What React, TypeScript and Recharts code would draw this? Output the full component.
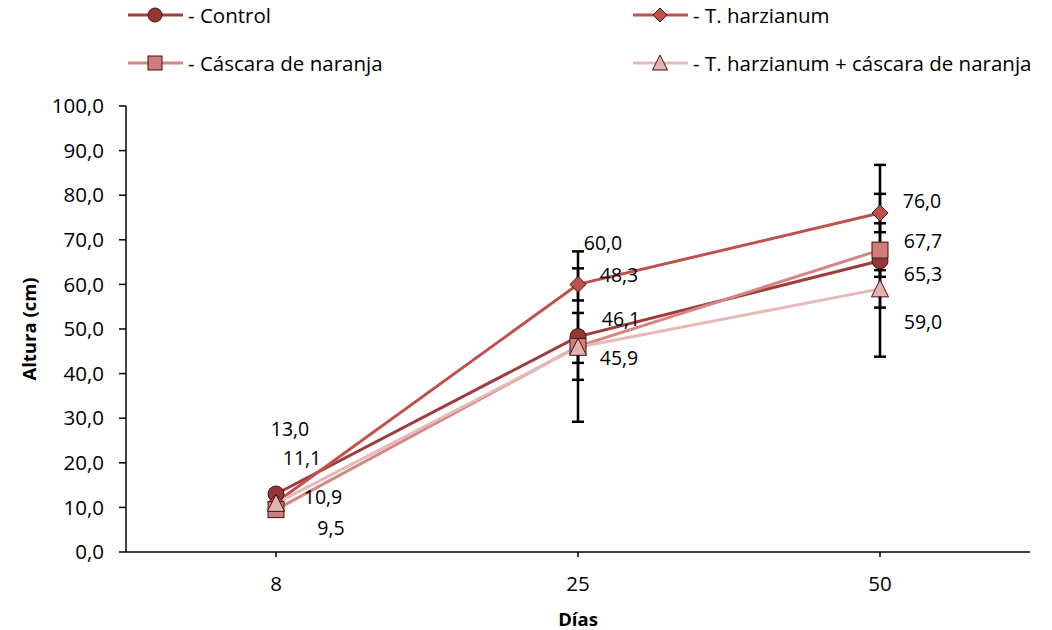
import React from "react";
import { LineChart, Line, XAxis, YAxis, ErrorBar } from "recharts";

const DAYS = ["8", "25", "50"];
const SERIES_NAMES = [
    "Control",
    "T. harzianum",
    "Cáscara de naranja",
    "T. harzianum + cáscara de naranja",
];
const CONTROL = [13.0, 48.3, 65.3];
const HARZIANUM = [11.1, 60.0, 76.0];
const CASCARA = [9.5, 46.1, 67.7];
const HARZ_CASCARA = [10.9, 45.9, 59.0];

const CONTROL_ERR = [0.8, 19.1, 21.5];
const HARZIANUM_ERR = [0.8, 3.6, 4.3];
const CASCARA_ERR = [0.8, 7.5, 6.0];
const HARZ_CASCARA_ERR = [0.8, 3.5, 4.2];

const Y_TICKS = [0, 10, 20, 30, 40, 50, 60, 70, 80, 90, 100];

// label nudges (px) relative to each point, hand-placed like in the original sheet
const LABEL_NUDGE: Record<string, [number, number][]> = {
    control: [[14, -66], [41, -62], [43, 13]],
    harzianum: [[26, -45], [25, -42], [42, -13]],
    cascara: [[55, 18], [43, -28], [43, -10]],
    harzCascara: [[47, -7], [41, 10], [43, 33]],
};

type Shape = "circle" | "diamond" | "square" | "triangle";

const SERIES: { key: string; line: string; fill: string; shape: Shape }[] = [
    { key: "control", line: "#9d3e3c", fill: "#953735", shape: "circle" },
    { key: "harzianum", line: "#c0504d", fill: "#c0504d", shape: "diamond" },
    { key: "cascara", line: "#d48684", fill: "#d07e7d", shape: "square" },
    { key: "harzCascara", line: "#e6b9b8", fill: "#e3b3b2", shape: "triangle" },
];

const data = DAYS.map((day, i) => ({
    day,
    control: CONTROL[i],
    controlErr: CONTROL_ERR[i],
    harzianum: HARZIANUM[i],
    harzianumErr: HARZIANUM_ERR[i],
    cascara: CASCARA[i],
    cascaraErr: CASCARA_ERR[i],
    harzCascara: HARZ_CASCARA[i],
    harzCascaraErr: HARZ_CASCARA_ERR[i],
}));

const FONT = "'Open Sans', sans-serif";
const fmt = (v: number) => v.toFixed(1).replace(".", ",");

function Marker({ cx, cy, shape, fill, size = 16 }: { cx: number; cy: number; shape: Shape; fill: string; size?: number }) {
    const s = size / 2;
    const common = { fill, stroke: "#3d1515", strokeWidth: 1 };
    switch (shape) {
        case "circle":
            return <circle cx={cx} cy={cy} r={s} {...common} />;
        case "square":
            return <rect x={cx - s} y={cy - s} width={size} height={size} {...common} />;
        case "diamond":
            return <polygon points={`${cx},${cy - s} ${cx + s},${cy} ${cx},${cy + s} ${cx - s},${cy}`} {...common} />;
        default:
            return <polygon points={`${cx},${cy - s - 1} ${cx + s + 0.5},${cy + s} ${cx - s - 0.5},${cy + s}`} {...common} />;
    }
}

function Legend() {
    const cols = [128, 633];
    const rows = [15, 63];
    return (
        <svg width={1052} height={80} style={{ position: "absolute", left: 0, top: 0 }}>
            {SERIES.map((s, i) => {
                const x = cols[i % 2];
                const y = rows[Math.floor(i / 2)];
                return (
                    <g key={s.key}>
                        <line x1={x} x2={x + 55} y1={y} y2={y} stroke={s.line} strokeWidth={3} />
                        <Marker cx={x + 27} cy={y} shape={s.shape} fill={s.fill} size={14} />
                        <text x={x + 60} y={y} dominantBaseline="central" fontFamily={FONT} fontSize={20.5} fill="#000">
                            {"- " + SERIES_NAMES[i]}
                        </text>
                    </g>
                );
            })}
        </svg>
    );
}

function makeLabel(key: string) {
    return (props: any) => {
        const { x, y, value, index } = props;
        const [dx, dy] = LABEL_NUDGE[key][index];
        return (
            <text
                x={x + dx}
                y={y + dy}
                textAnchor="middle"
                dominantBaseline="central"
                fontFamily={FONT}
                fontSize={19.5}
                fill="#000"
            >
                {fmt(value)}
            </text>
        );
    };
}

function makeDot(shape: Shape, fill: string) {
    return (props: any) => {
        const { cx, cy, index } = props;
        return <Marker key={`dot-${index}`} cx={cx} cy={cy} shape={shape} fill={fill} />;
    };
}

export default function App() {
    return (
        <div style={{ position: "absolute", left: 0, top: 0, width: 1052, height: 630, background: "#fff" }}>
            <Legend />
            <LineChart width={1052} height={630} data={data} margin={{ top: 106, right: 22, left: 0, bottom: 0 }}>
                <XAxis
                    dataKey="day"
                    height={78}
                    padding={{ left: 150, right: 150 }}
                    axisLine={{ stroke: "#000", strokeWidth: 1.5 }}
                    tickLine={{ stroke: "#000", strokeWidth: 1.5 }}
                    tickSize={5}
                    tickMargin={19}
                    tick={{ fill: "#000", fontSize: 20.5, fontFamily: FONT }}
                    label={{ value: "Días", position: "insideBottom", offset: 4, fill: "#000", fontSize: 18.5, fontWeight: 700, fontFamily: FONT }}
                />
                <YAxis
                    width={126}
                    domain={[0, 100]}
                    ticks={Y_TICKS}
                    interval={0}
                    tickFormatter={fmt}
                    axisLine={{ stroke: "#000", strokeWidth: 1.5 }}
                    tickLine={{ stroke: "#000", strokeWidth: 1.5 }}
                    tickSize={7}
                    tickMargin={15}
                    tick={{ fill: "#000", fontSize: 20.5, fontFamily: FONT }}
                    label={{
                        content: ({ viewBox }: any) => {
                            const cx = viewBox.x + 28;
                            const cy = viewBox.y + viewBox.height / 2;
                            return (
                                <text
                                    x={cx}
                                    y={cy}
                                    transform={`rotate(-90, ${cx}, ${cy})`}
                                    textAnchor="middle"
                                    dominantBaseline="central"
                                    fontFamily={FONT}
                                    fontSize={18.5}
                                    fontWeight={700}
                                    fill="#000"
                                >
                                    Altura (cm)
                                </text>
                            );
                        },
                    }}
                />
                {SERIES.map((s) => (
                    <Line
                        key={`err-${s.key}`}
                        dataKey={s.key}
                        stroke="none"
                        dot={false}
                        activeDot={false}
                        legendType="none"
                        isAnimationActive={false}
                    >
                        <ErrorBar dataKey={`${s.key}Err`} width={6} stroke="#000" strokeWidth={2.5} direction="y" />
                    </Line>
                ))}
                {SERIES.map((s) => (
                    <Line
                        key={s.key}
                        dataKey={s.key}
                        stroke={s.line}
                        strokeWidth={3}
                        dot={makeDot(s.shape, s.fill)}
                        activeDot={false}
                        label={makeLabel(s.key)}
                        isAnimationActive={false}
                    />
                ))}
            </LineChart>
        </div>
    );
}
